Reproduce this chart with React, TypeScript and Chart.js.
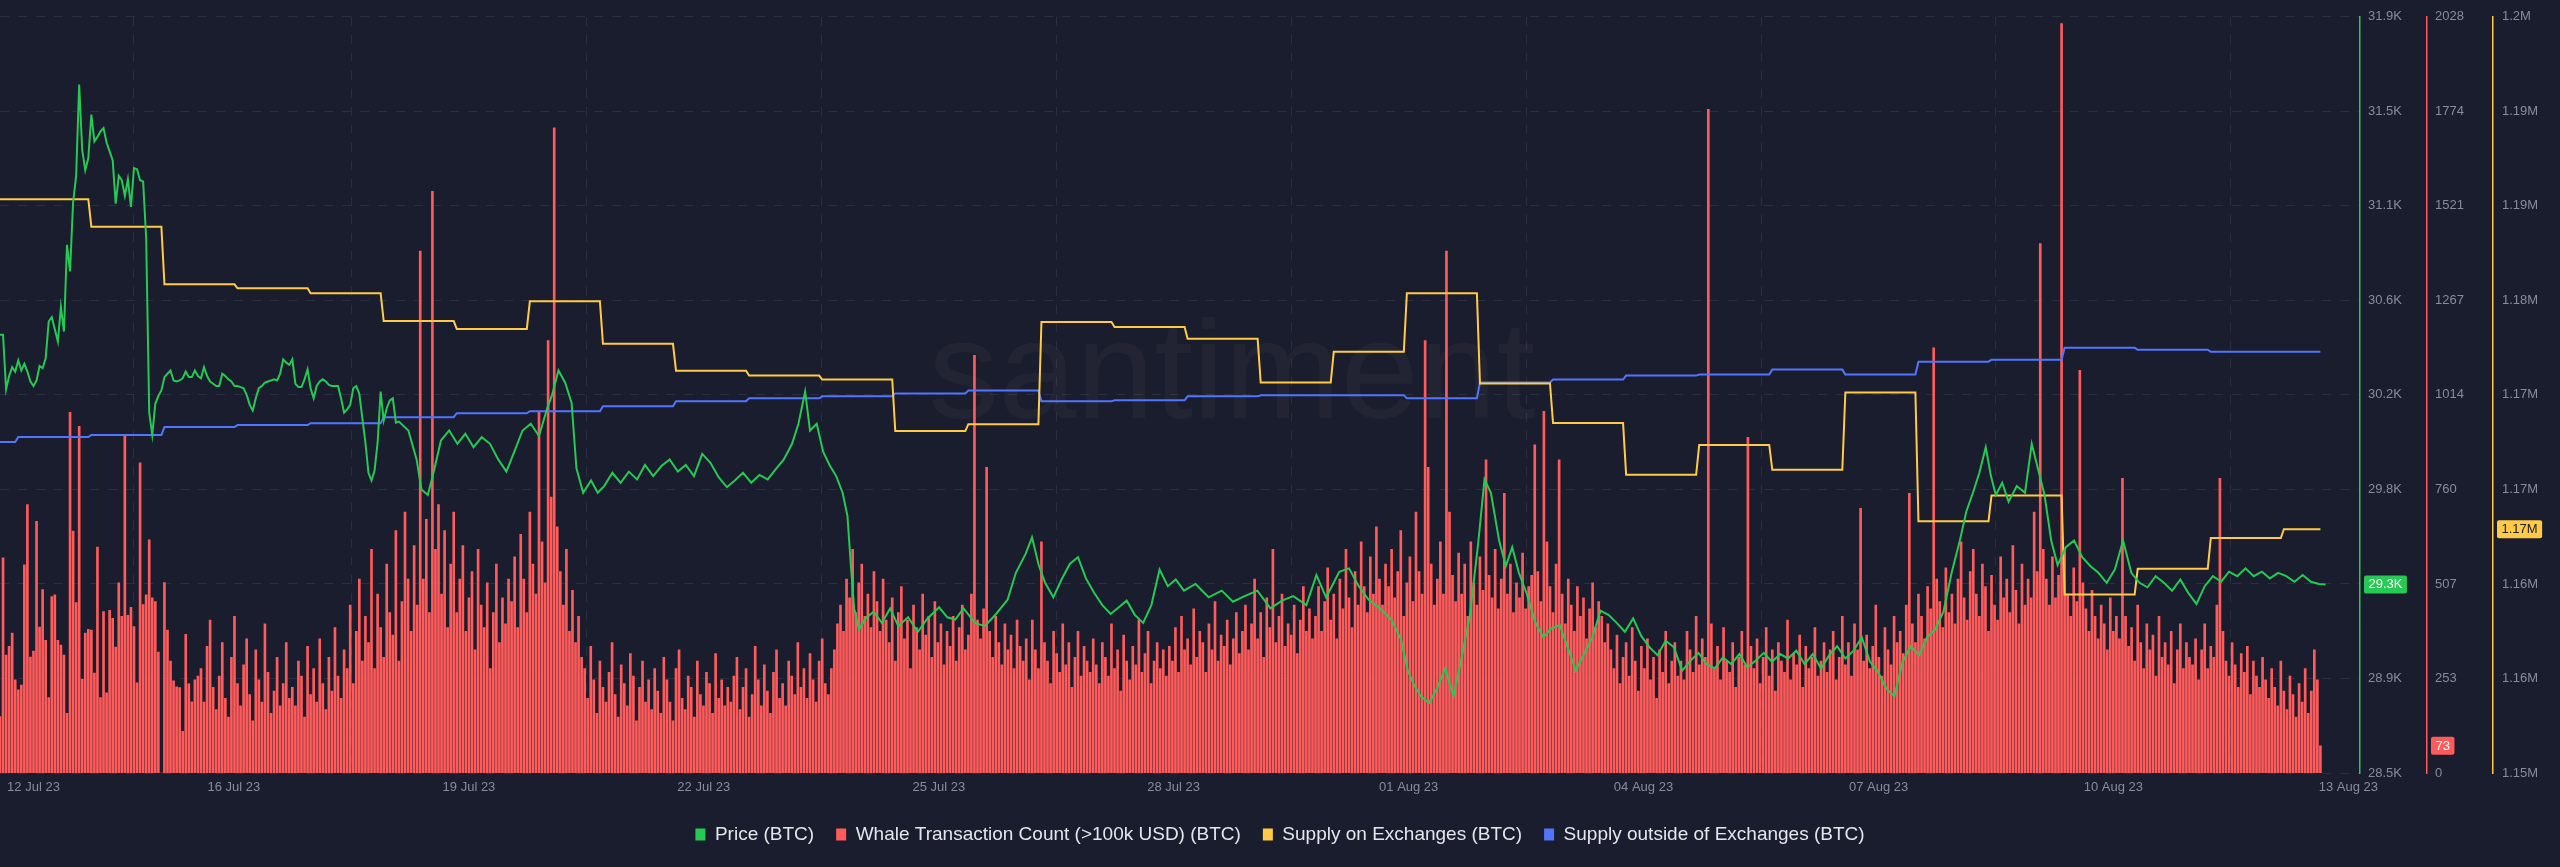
import { useEffect, useRef } from 'react';
import { Chart, registerables } from 'chart.js';

Chart.register(...registerables);

// ---------- colours & fonts ----------
const BG = '#1a1d2d';
const GRID = '#2a2e40';
const TICK = '#868c9e';
const GREEN = '#26C953';
const RED = '#FF5B5B';
const YELLOW = '#FFCB47';
const BLUE = '#5275FF';
const FONT = '"Liberation Sans", Arial, sans-serif';

// ---------- data (x = hours since 12 Jul 23 20:00) ----------
const X_MAX_HOURS = 775;
const X_TICK_HOURS = [11, 76.8, 154, 231.1, 308.3, 385.4, 462.6, 539.7, 616.9, 694, 771.2];
const X_TICK_LABELS = ['12 Jul 23', '16 Jul 23', '19 Jul 23', '22 Jul 23', '25 Jul 23', '28 Jul 23', '01 Aug 23', '04 Aug 23', '07 Aug 23', '10 Aug 23', '13 Aug 23'];

// Price (BTC), hourly for the first 132 hours
const PRICE_HOURLY = [
  30470, 30470, 30225, 30285, 30325, 30305, 30355, 30310, 30340, 30305, 30260, 30240,
  30265, 30330, 30320, 30365, 30530, 30550, 30495, 30440, 30595, 30485, 30875, 30755,
  31065, 31185, 31595, 31300, 31210, 31265, 31460, 31340, 31360, 31385, 31400, 31335,
  31295, 31255, 31060, 31185, 31165, 31095, 31170, 31045, 31220, 31215, 31165, 31160,
  30905, 30120, 30020, 30160, 30195, 30220, 30280, 30295, 30310, 30265, 30260, 30265,
  30275, 30305, 30280, 30280, 30310, 30285, 30275, 30325, 30285, 30260, 30250, 30240,
  30240, 30295, 30285, 30270, 30260, 30240, 30240, 30235, 30230, 30200, 30155, 30130,
  30185, 30230, 30240, 30255, 30260, 30265, 30270, 30265, 30295, 30360, 30345, 30335,
  30360, 30250, 30235, 30235, 30270, 30315, 30230, 30185, 30240, 30260, 30270, 30260,
  30245, 30240, 30240, 30240, 30185, 30120, 30135, 30155, 30230, 30240, 30205, 30095,
  29985, 29850, 29815, 29860, 29985, 30215, 30085, 30140, 30175, 30185, 30075, 30080,
];
// Price (BTC), readings after that
const PRICE_READ_HOURS = [
  134.1, 136.8, 138.4, 140.5, 142.7, 144.8, 147.5, 150.2, 152.8, 155.5, 158.2, 160.9, 163.6, 166.3, 168.9, 171.6,
  174.3, 177.0, 179.7, 181.3, 183.4, 185.6, 187.7, 189.3, 191.5, 194.1, 196.3, 198.4, 201.1, 203.8, 206.5, 209.2,
  211.8, 214.5, 217.2, 219.9, 222.6, 225.2, 227.9, 230.6, 233.3, 236.0, 238.7, 241.3, 244.0, 246.7, 249.4, 252.1,
  254.7, 257.4, 260.1, 262.2, 264.4, 266.0, 268.2, 270.3, 272.4, 274.6, 276.7, 278.3, 279.4, 280.5, 282.1, 284.2,
  286.9, 289.6, 292.3, 295.0, 298.2, 301.4, 304.6, 308.4, 311.1, 313.7, 316.4, 320.2, 323.4, 327.1, 330.9, 333.6,
  336.8, 338.9, 341.1, 343.2, 345.9, 348.6, 351.3, 354.0, 356.6, 359.3, 362.0, 364.7, 367.4, 370.0, 372.7, 375.4,
  378.1, 380.8, 383.5, 386.1, 388.8, 392.6, 396.9, 401.2, 404.9, 408.7, 412.9, 417.2, 421.0, 424.7, 429.0, 432.3,
  435.5, 439.8, 443.0, 446.2, 449.4, 453.2, 456.9, 460.1, 462.3, 464.4, 466.6, 469.3, 471.9, 474.6, 477.3, 480.0,
  482.7, 485.4, 487.5, 489.6, 492.3, 494.5, 496.6, 498.8, 501.4, 504.1, 506.8, 509.5, 512.2, 514.8, 517.5, 520.2,
  522.9, 525.6, 528.3, 530.9, 533.6, 536.3, 539.0, 541.7, 544.3, 547.0, 549.7, 552.4, 555.1, 557.8, 560.4, 563.1,
  565.8, 568.5, 571.2, 573.8, 576.5, 579.2, 581.9, 584.6, 587.2, 589.9, 592.6, 595.3, 598.0, 600.7, 603.3, 606.0,
  608.7, 611.4, 614.1, 616.7, 619.4, 622.1, 624.8, 627.5, 630.2, 632.8, 635.5, 638.2, 640.9, 643.6, 645.7, 647.9,
  650.0, 652.1, 653.8, 655.4, 657.5, 659.6, 662.3, 665.0, 667.2, 669.3, 671.4, 673.6, 675.7, 678.4, 681.1, 683.8,
  686.5, 689.1, 691.8, 694.5, 697.2, 699.9, 702.6, 705.2, 707.9, 710.6, 713.3, 716.0, 718.6, 721.3, 724.0, 726.7,
  729.4, 732.0, 734.7, 737.4, 740.1, 742.8, 745.4, 748.1, 750.8, 753.5, 756.2, 758.9, 761.5, 763.7,
];
const PRICE_READ_USD = [
  30040, 29910, 29775, 29750, 29870, 29995, 30040, 29980, 30025, 29965, 30010, 29980, 29910, 29855, 29945, 30040,
  30070, 30015, 30140, 30200, 30310, 30255, 30165, 29870, 29760, 29815, 29760, 29790, 29850, 29805, 29855, 29820,
  29885, 29835, 29880, 29910, 29855, 29885, 29835, 29935, 29895, 29830, 29785, 29815, 29850, 29805, 29840, 29820,
  29865, 29910, 29980, 30070, 30215, 30040, 30070, 29945, 29885, 29835, 29760, 29655, 29435, 29240, 29145, 29195,
  29225, 29175, 29240, 29160, 29200, 29135, 29195, 29245, 29200, 29190, 29240, 29175, 29160, 29215, 29280, 29400,
  29485, 29560, 29435, 29355, 29290, 29370, 29440, 29470, 29375, 29310, 29255, 29215, 29245, 29275, 29210, 29175,
  29255, 29415, 29340, 29370, 29320, 29350, 29290, 29320, 29270, 29295, 29320, 29240, 29275, 29295, 29255, 29390,
  29290, 29405, 29420, 29340, 29280, 29240, 29190, 29100, 28960, 28895, 28845, 28815, 28880, 28970, 28845, 29020,
  29210, 29530, 29820, 29760, 29545, 29430, 29515, 29400, 29305, 29180, 29110, 29150, 29165, 29065, 28960, 29035,
  29110, 29230, 29210, 29175, 29135, 29195, 29115, 29065, 29030, 29095, 29065, 28960, 29005, 29040, 28990, 28970,
  29020, 28990, 29035, 28975, 29005, 29040, 29000, 29035, 29015, 29050, 28990, 29035, 28970, 29030, 29070, 29015,
  29050, 29110, 29000, 28955, 28880, 28845, 29000, 29070, 29030, 29110, 29145, 29225, 29400, 29545, 29675, 29760,
  29850, 29965, 29835, 29750, 29805, 29720, 29790, 29760, 29980, 29865, 29750, 29545, 29435, 29515, 29545, 29470,
  29430, 29400, 29355, 29415, 29545, 29400, 29355, 29335, 29385, 29355, 29320, 29370, 29310, 29260, 29340, 29385,
  29360, 29405, 29385, 29420, 29385, 29405, 29375, 29400, 29385, 29360, 29390, 29360, 29350, 29348,
];

// Whale Transaction Count (>100k USD), one bar per hour from hour 0
const WHALE_COUNTS = [
  151, 577, 316, 340, 375, 250, 223, 236, 558, 720, 311, 327, 675, 391, 492, 356, 202, 473, 478, 356, 343, 316, 160, 967,
  649, 457, 930, 252, 375, 385, 383, 268, 606, 202, 433, 215, 436, 415, 338, 510, 420, 903, 423, 444, 393, 242, 832, 452,
  478, 625, 470, 460, 324, 0, 511, 383, 300, 247, 231, 229, 112, 372, 239, 191, 250, 260, 280, 190, 340, 410, 230, 170,
  260, 350, 200, 150, 310, 420, 240, 180, 290, 360, 210, 140, 330, 250, 190, 400, 270, 160, 220, 310, 180, 240, 350, 200,
  230, 180, 300, 260, 150, 340, 210, 280, 190, 360, 240, 170, 310, 220, 390, 260, 200, 330, 280, 450, 240, 380, 520, 300,
  420, 350, 600, 280, 480, 390, 310, 560, 430, 370, 650, 300, 460, 700, 520, 380, 610, 450, 1400, 520, 680, 430, 1560, 600,
  720, 480, 650, 390, 560, 700, 430, 520, 610, 380, 470, 540, 330, 600, 450, 390, 510, 280, 430, 560, 350, 470, 400, 520,
  460, 580, 390, 640, 520, 430, 700, 560, 480, 970, 620, 510, 1160, 740, 1730, 660, 540, 450, 600, 380, 490, 350, 420, 310,
  280, 200, 340, 250, 160, 300, 230, 190, 270, 350, 210, 150, 290, 240, 180, 320, 260, 140, 230, 300, 190, 250, 170, 280,
  220, 160, 310, 250, 190, 140, 280, 330, 200, 170, 260, 230, 150, 300, 210, 180, 270, 240, 160, 320, 200, 250, 180, 230,
  190, 260, 310, 170, 230, 280, 150, 210, 340, 250, 180, 290, 220, 160, 270, 330, 200, 240, 180, 300, 260, 210, 350, 230,
  280, 200, 320, 250, 190, 300, 360, 240, 210, 280, 330, 400, 450, 380, 520, 470, 600, 430, 510, 560, 420, 480, 390, 540,
  460, 380, 520, 410, 350, 470, 300, 430, 500, 360, 410, 280, 450, 390, 330, 480, 370, 420, 310, 460, 350, 400, 290, 380,
  340, 420, 300, 390, 450, 330, 370, 480, 1120, 410, 360, 440, 820, 380, 310, 420, 350, 290, 400, 330, 370, 280, 410, 340,
  300, 360, 250, 410, 330, 280, 620, 350, 300, 240, 380, 320, 270, 400, 290, 350, 230, 310, 380, 260, 340, 300, 270, 360,
  290, 240, 350, 310, 260, 400, 280, 330, 220, 370, 300, 250, 340, 290, 410, 270, 320, 380, 240, 300, 350, 280, 330, 260,
  340, 300, 390, 270, 420, 330, 360, 290, 440, 310, 380, 350, 270, 400, 330, 460, 300, 370, 340, 410, 290, 360, 430, 320,
  380, 450, 330, 400, 520, 360, 430, 310, 470, 390, 600, 350, 420, 480, 340, 400, 370, 450, 320, 410, 500, 380, 440, 360,
  420, 500, 380, 460, 550, 410, 480, 360, 520, 440, 600, 470, 390, 540, 450, 620, 500, 430, 580, 480, 660, 520, 450, 560,
  500, 600, 470, 540, 650, 420, 510, 580, 460, 700, 540, 480, 1160, 820, 560, 450, 520, 620, 480, 1400, 700, 530, 460, 590,
  480, 560, 420, 620, 510, 450, 580, 490, 840, 530, 470, 600, 440, 520, 750, 480, 560, 430, 510, 470, 590, 440, 500, 530,
  880, 540, 460, 970, 620, 500, 430, 560, 840, 480, 400, 520, 450, 380, 500, 420, 470, 360, 440, 510, 390, 460, 420, 350,
  400, 330, 280, 370, 240, 310, 350, 260, 390, 300, 220, 340, 280, 360, 250, 310, 200, 330, 270, 380, 240, 300, 350, 260,
  300, 250, 380, 330, 270, 420, 290, 360, 310, 1780, 400, 280, 340, 250, 390, 300, 270, 350, 230, 310, 380, 290, 900, 340,
  280, 360, 240, 310, 390, 260, 330, 220, 350, 300, 270, 410, 250, 320, 290, 370, 230, 340, 280, 310, 390, 260, 300, 350,
  270, 330, 380, 250, 310, 420, 290, 350, 260, 400, 330, 710, 300, 370, 280, 340, 450, 310, 260, 390, 330, 290, 420, 350,
  380, 320, 450, 750, 400, 350, 480, 420, 360, 500, 440, 1140, 520, 460, 390, 550, 430, 480, 400, 520, 620, 470, 410, 540,
  600, 480, 420, 560, 500, 380, 530, 450, 410, 580, 470, 520, 430, 610, 490, 400, 560, 450, 520, 470, 700, 540, 1420, 600,
  520, 450, 580, 470, 530, 2010, 600, 480, 420, 550, 460, 1080, 510, 440, 380, 490, 420, 360, 450, 400, 330, 470, 380, 420,
  360, 790, 420, 340, 390, 300, 450, 350, 280, 400, 330, 370, 260, 420, 310, 350, 290, 380, 240, 330, 400, 280, 350, 310,
  290, 360, 250, 330, 400, 280, 340, 310, 450, 790, 380, 300, 260, 350, 290, 230, 320, 270, 340, 210, 300, 260, 230, 310,
  250, 200, 280, 230, 180, 300, 220, 170, 260, 210, 150, 240, 190, 280, 160, 220, 330, 250, 73,
];
const LAST_HOUR = WHALE_COUNTS.length - 1;

// Supply on Exchanges (BTC): daily values, each starting at the given hour
const SUPPLY_ON_START_HOURS = [0, 30, 54, 78, 102, 126, 150, 174, 198, 222, 246, 270, 294, 318, 342, 366, 390, 414, 438, 462, 486, 510, 534, 558, 582, 606, 630, 654, 678, 702, 726, 750];
const SUPPLY_ON = [
  1187940, 1186110, 1182310, 1182045, 1181715, 1179880, 1179360, 1181190, 1178375, 1176605, 1176280, 1176015,
  1172610, 1173065, 1179815, 1179490, 1178705, 1175820, 1177850, 1181715, 1175755, 1173135, 1169725, 1171690,
  1170055, 1175165, 1166645, 1168350, 1161795, 1163500, 1165530, 1166120,
];
// Supply outside of Exchanges (BTC)
const SUPPLY_OUT_START_HOURS = [0, 6, 30, 54, 78, 102, 126, 150, 174, 198, 222, 246, 270, 294, 318, 342, 366, 390, 414, 438, 462, 486, 510, 534, 558, 582, 606, 630, 654, 678, 702, 726, 750];
const SUPPLY_OUT = [
  18248800, 18249980, 18250450, 18252340, 18252810, 18253280, 18254700, 18255640, 18256110, 18257290, 18258470,
  18259180, 18259650, 18260360, 18261070, 18258470, 18258710, 18259650, 18259890, 18259890, 18259180, 18262950,
  18263660, 18264600, 18264840, 18266020, 18264840, 18267910, 18268380, 18271210, 18270740, 18270270, 18270270,
];

// axis ranges
const PRICE_MIN = 28500, PRICE_MAX = 31900;
const WHALE_MIN = 0, WHALE_MAX = 2028;
const SUPPLY_MIN = 1150000, SUPPLY_MAX = 1200000;
const OUT_MIN = 18170000, OUT_MAX = 18350000;
const TICK_COUNT = 9;

// ---------- helpers ----------
type Pt = { x: number; y: number };

function stepSeries(starts: number[], values: number[], last: number): Pt[] {
  const pts: Pt[] = [];
  values.forEach((v, i) => {
    const s = starts[i];
    const e = i + 1 < starts.length ? starts[i + 1] - 1 : last;
    pts.push({ x: s, y: v });
    if (e > s) pts.push({ x: e, y: v });
  });
  return pts;
}

const fmtPrice = (v: number) => (Math.round(v / 100) / 10).toFixed(1) + 'K';
const fmtWhale = (v: number) => String(Math.floor(v));
const fmtSupply = (v: number) => Number(((v - 50) / 1e6).toFixed(2)) + 'M';

function evenTicks(min: number, max: number) {
  return (scale: any) => {
    const step = (max - min) / (TICK_COUNT - 1);
    scale.ticks = Array.from({ length: TICK_COUNT }, (_, i) => ({ value: min + i * step }));
  };
}

const lastValueTags = {
  id: 'lastValueTags',
  afterDraw(chart: any) {
    const ctx = chart.ctx as CanvasRenderingContext2D;
    const tags = [
      { ds: 0, axis: 'yPrice', bg: GREEN, fg: '#ffffff', fmt: fmtPrice },
      { ds: 1, axis: 'yWhale', bg: RED, fg: '#ffffff', fmt: fmtWhale },
      { ds: 2, axis: 'ySupply', bg: YELLOW, fg: '#1a1d2d', fmt: fmtSupply },
    ];
    ctx.save();
    ctx.font = `13px ${FONT}`;
    ctx.textBaseline = 'middle';
    ctx.textAlign = 'left';
    for (const t of tags) {
      const data = chart.data.datasets[t.ds].data as Pt[];
      const last = data[data.length - 1].y;
      const scale = chart.scales[t.axis];
      const y = scale.getPixelForValue(last);
      const label = t.fmt(last);
      const w = ctx.measureText(label).width + 9;
      const x = scale.left + 4;
      ctx.fillStyle = t.bg;
      ctx.beginPath();
      if ((ctx as any).roundRect) (ctx as any).roundRect(x, y - 9, w, 18, 2);
      else ctx.rect(x, y - 9, w, 18);
      ctx.fill();
      ctx.fillStyle = t.fg;
      ctx.fillText(label, x + 4.5, y + 0.5);
    }
    ctx.restore();
  },
};

const watermark = {
  id: 'watermark',
  beforeDatasetsDraw(chart: any) {
    const { ctx, chartArea } = chart;
    ctx.save();
    ctx.font = `140px ${FONT}`;
    ctx.fillStyle = 'rgba(255,255,255,0.035)';
    ctx.textAlign = 'center';
    ctx.textBaseline = 'middle';
    ctx.fillText('santiment', chartArea.left + chartArea.width * 0.522, chartArea.top + chartArea.height * 0.48);
    ctx.restore();
  },
};

export default function App() {
  const canvasRef = useRef<HTMLCanvasElement | null>(null);

  useEffect(() => {
    document.body.style.margin = '0';
    document.body.style.background = BG;
    const canvas = canvasRef.current;
    if (!canvas) return;

    const priceData: Pt[] = [
      ...PRICE_HOURLY.map((y, h) => ({ x: h, y })),
      ...PRICE_READ_HOURS.map((x, i) => ({ x, y: PRICE_READ_USD[i] })),
    ];
    const whaleData: Pt[] = WHALE_COUNTS.map((y, h) => ({ x: h, y }));
    const supplyOnData = stepSeries(SUPPLY_ON_START_HOURS, SUPPLY_ON, LAST_HOUR);
    const supplyOutData = stepSeries(SUPPLY_OUT_START_HOURS, SUPPLY_OUT, LAST_HOUR);
    const legendColors = [GREEN, RED, YELLOW, BLUE];

    const tickFont = { family: FONT, size: 13 };

    const chart = new Chart(canvas, {
      type: 'bar',
      data: {
        datasets: [
          {
            type: 'line', label: 'Price (BTC)', data: priceData, yAxisID: 'yPrice',
            borderColor: GREEN, backgroundColor: GREEN, borderWidth: 2, pointRadius: 0, tension: 0, order: 1,
          } as any,
          {
            type: 'bar', label: 'Whale Transaction Count (>100k USD) (BTC)', data: whaleData, yAxisID: 'yWhale',
            backgroundColor: RED, borderWidth: 0, barThickness: 2, grouped: false, order: 4,
          } as any,
          {
            type: 'line', label: 'Supply on Exchanges (BTC)', data: supplyOnData, yAxisID: 'ySupply',
            borderColor: YELLOW, backgroundColor: YELLOW, borderWidth: 2, pointRadius: 0, tension: 0, order: 2,
          } as any,
          {
            type: 'line', label: 'Supply outside of Exchanges (BTC)', data: supplyOutData, yAxisID: 'yOut',
            borderColor: BLUE, backgroundColor: BLUE, borderWidth: 2, pointRadius: 0, tension: 0, order: 3,
          } as any,
        ],
      },
      options: {
        animation: false,
        responsive: false,
        maintainAspectRatio: false,
        events: [],
        layout: { padding: { top: 10, bottom: 13, left: 0, right: 0 } },
        plugins: {
          tooltip: { enabled: false },
          legend: {
            position: 'bottom',
            align: 'center',
            labels: {
              boxWidth: 10,
              boxHeight: 12,
              padding: 22,
              color: '#e4e6ec',
              font: { family: FONT, size: 19 },
              generateLabels: (c: any) =>
                c.data.datasets.map((d: any, i: number) => ({
                  text: d.label,
                  fillStyle: legendColors[i],
                  strokeStyle: legendColors[i],
                  lineWidth: 0,
                  hidden: false,
                  datasetIndex: i,
                  fontColor: '#e4e6ec',
                })),
            },
          },
        },
        scales: {
          x: {
            type: 'linear',
            min: 0,
            max: X_MAX_HOURS,
            offset: false,
            afterBuildTicks: (s: any) => {
              s.ticks = X_TICK_HOURS.map((v) => ({ value: v }));
            },
            afterFit: (s: any) => {
              s.height = 30;
            },
            grid: {
              color: (ctx: any) => (ctx.index === 0 ? 'rgba(0,0,0,0)' : GRID),
              drawTicks: false,
              lineWidth: 1,
            },
            border: { display: false, dash: [9, 9] },
            ticks: {
              padding: 7,
              color: TICK,
              font: tickFont,
              maxRotation: 0,
              autoSkip: false,
              callback: (v: any) => {
                const i = X_TICK_HOURS.indexOf(Number(v));
                return i >= 0 ? X_TICK_LABELS[i] : '';
              },
            },
          },
          yPrice: {
            type: 'linear',
            position: 'right',
            weight: 0,
            min: PRICE_MIN,
            max: PRICE_MAX,
            afterBuildTicks: evenTicks(PRICE_MIN, PRICE_MAX),
            afterFit: (s: any) => { s.width = 67; },
            grid: { color: GRID, drawTicks: false, lineWidth: 1 },
            border: { display: true, color: GREEN, width: 1.5, dash: [9, 9] },
            ticks: { padding: 8, color: TICK, font: tickFont, callback: (v: any) => fmtPrice(Number(v)) },
          },
          yWhale: {
            type: 'linear',
            position: 'right',
            weight: 1,
            min: WHALE_MIN,
            max: WHALE_MAX,
            afterBuildTicks: evenTicks(WHALE_MIN, WHALE_MAX),
            afterFit: (s: any) => { s.width = 66; },
            grid: { display: false, drawTicks: false },
            border: { display: true, color: RED, width: 1.5 },
            ticks: { padding: 8, color: TICK, font: tickFont, callback: (v: any) => fmtWhale(Number(v)) },
          },
          ySupply: {
            type: 'linear',
            position: 'right',
            weight: 2,
            min: SUPPLY_MIN,
            max: SUPPLY_MAX,
            afterBuildTicks: evenTicks(SUPPLY_MIN, SUPPLY_MAX),
            afterFit: (s: any) => { s.width = 67; },
            grid: { display: false, drawTicks: false },
            border: { display: true, color: YELLOW, width: 1.5 },
            ticks: { padding: 9, color: TICK, font: tickFont, callback: (v: any) => fmtSupply(Number(v)) },
          },
          yOut: {
            type: 'linear',
            display: false,
            min: OUT_MIN,
            max: OUT_MAX,
          },
        },
      } as any,
      plugins: [watermark, lastValueTags],
    });

    return () => chart.destroy();
  }, []);

  return (
    <div style={{ width: 2560, height: 867, background: BG }}>
      <canvas ref={canvasRef} width={2560} height={867} style={{ display: 'block', width: 2560, height: 867 }} />
    </div>
  );
}
